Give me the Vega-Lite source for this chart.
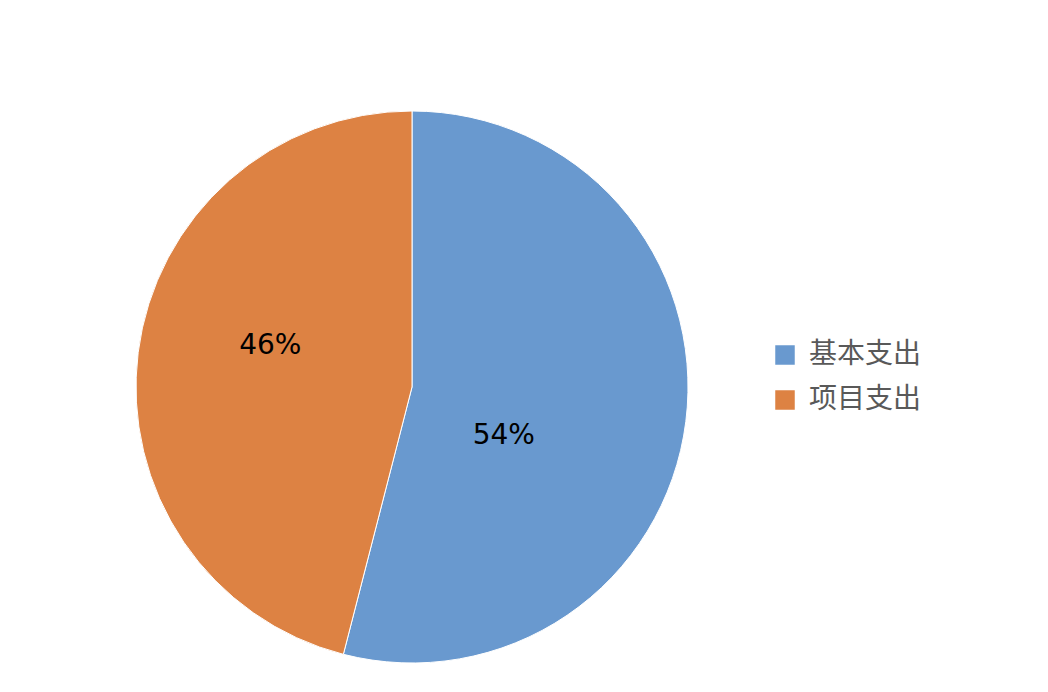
{
  "$schema": "https://vega.github.io/schema/vega-lite/v6.json",
  "description": "基本支出与项目支出占比",
  "width": 552,
  "height": 552,
  "padding": {"left": 136, "top": 111, "right": 360, "bottom": 29},
  "autosize": "none",
  "background": "white",
  "config": {
    "view": {"stroke": null},
    "legend": {"padding": 0}
  },
  "data": {
    "values": [
      {"category": "基本支出", "value": 54, "order": 1},
      {"category": "项目支出", "value": 46, "order": 2}
    ]
  },
  "encoding": {
    "theta": {"field": "value", "type": "quantitative", "stack": true},
    "order": {"field": "order", "type": "quantitative"},
    "color": {
      "field": "category",
      "type": "nominal",
      "sort": ["基本支出", "项目支出"],
      "scale": {"range": ["#6999cf", "#dd8243"]},
      "legend": {
        "title": null,
        "orient": "none",
        "legendX": 635,
        "legendY": 230,
        "symbolType": "square",
        "symbolSize": 380,
        "symbolStrokeWidth": 0,
        "labelFont": "Noto Sans CJK SC",
        "labelFontSize": 28,
        "labelColor": "#595959",
        "labelOffset": 10,
        "rowPadding": 17
      }
    }
  },
  "layer": [
    {
      "mark": {"type": "arc", "stroke": "white", "strokeWidth": 1}
    },
    {
      "mark": {
        "type": "text",
        "radius": 125,
        "thetaOffset": 0.24,
        "dx": -25,
        "dy": 4,
        "font": "DejaVu Sans",
        "fontSize": 28,
        "color": "black"
      },
      "encoding": {
        "text": {"field": "label", "type": "nominal"},
        "color": {"value": "black"}
      },
      "transform": [
        {"calculate": "datum.value + '%'", "as": "label"}
      ]
    }
  ]
}
